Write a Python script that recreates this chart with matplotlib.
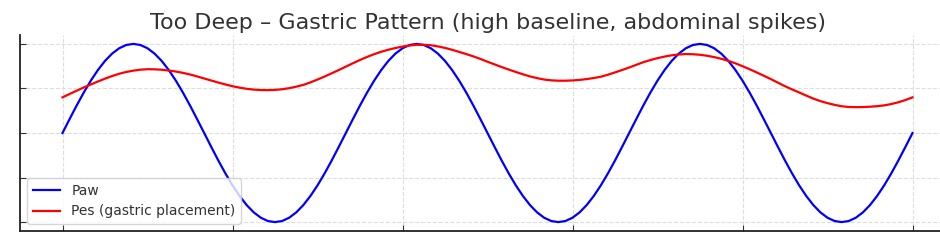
import numpy as np
import matplotlib.pyplot as plt

# time axis (samples every 1/12 s)
t = np.arange(121) / 12.0

paw = [0.0, 0.156, 0.309, 0.454, 0.588, 0.707, 0.809, 0.891, 0.951, 0.988,
       1.0, 0.988, 0.951, 0.891, 0.809, 0.707, 0.588, 0.454, 0.309, 0.156,
       0.0, -0.156, -0.309, -0.454, -0.588, -0.707, -0.809, -0.891, -0.951, -0.988,
       -1.0, -0.988, -0.951, -0.891, -0.809, -0.707, -0.588, -0.454, -0.309, -0.156,
       0.0, 0.156, 0.309, 0.454, 0.588, 0.707, 0.809, 0.891, 0.951, 0.988,
       1.0, 0.988, 0.951, 0.891, 0.809, 0.707, 0.588, 0.454, 0.309, 0.156,
       0.0, -0.156, -0.309, -0.454, -0.588, -0.707, -0.809, -0.891, -0.951, -0.988,
       -1.0, -0.988, -0.951, -0.891, -0.809, -0.707, -0.588, -0.454, -0.309, -0.156,
       0.0, 0.156, 0.309, 0.454, 0.588, 0.707, 0.809, 0.891, 0.951, 0.988,
       1.0, 0.988, 0.951, 0.891, 0.809, 0.707, 0.588, 0.454, 0.309, 0.156,
       0.0, -0.156, -0.309, -0.454, -0.588, -0.707, -0.809, -0.891, -0.951, -0.988,
       -1.0, -0.988, -0.951, -0.891, -0.809, -0.707, -0.588, -0.454, -0.309, -0.156,
       0.0]

pes = [0.40, 0.438, 0.475, 0.511, 0.545, 0.578, 0.61, 0.639, 0.665, 0.685,
       0.70, 0.711, 0.716, 0.715, 0.71, 0.701, 0.69, 0.675, 0.657, 0.635,
       0.612, 0.589, 0.566, 0.545, 0.525, 0.509, 0.496, 0.487, 0.482, 0.481,
       0.484, 0.491, 0.503, 0.52, 0.54, 0.568, 0.60, 0.634, 0.67, 0.707,
       0.745, 0.783, 0.82, 0.854, 0.885, 0.912, 0.935, 0.954, 0.97, 0.982,
       0.99, 0.99, 0.985, 0.972, 0.955, 0.934, 0.91, 0.886, 0.86, 0.831,
       0.80, 0.77, 0.74, 0.712, 0.685, 0.659, 0.635, 0.616, 0.60, 0.591,
       0.587, 0.587, 0.59, 0.596, 0.605, 0.617, 0.632, 0.654, 0.68, 0.707,
       0.735, 0.765, 0.795, 0.819, 0.84, 0.858, 0.872, 0.881, 0.886, 0.884,
       0.878, 0.867, 0.852, 0.833, 0.81, 0.782, 0.75, 0.716, 0.68, 0.643,
       0.605, 0.565, 0.525, 0.489, 0.455, 0.42, 0.386, 0.358, 0.335, 0.316,
       0.30, 0.292, 0.29, 0.291, 0.295, 0.301, 0.31, 0.325, 0.345, 0.37,
       0.40]

title = 'Too Deep \u2013 Gastric Pattern (high baseline, abdominal spikes)'

fig = plt.figure(figsize=(9.4, 2.46), dpi=100)
ax = fig.add_axes([20/940, 15/246, 935/940, 196/246])

ax.plot(t, paw, color='blue', lw=1.6, label='Paw')
ax.plot(t, pes, color='red', lw=1.6, label='Pes (gastric placement)')

ax.set_xlim(-0.5, 10.5)
ax.set_ylim(-1.1, 1.1)
ax.set_xticks([0, 2, 4, 6, 8, 10])
ax.set_yticks([-1, -0.5, 0, 0.5, 1])
ax.set_xticklabels([])
ax.set_yticklabels([])
ax.tick_params(direction='in', color='#333333', length=4)
ax.grid(True, ls='--', color='#dddddd', lw=0.8)

for s in ['top', 'right']:
    ax.spines[s].set_visible(False)
for s in ['left', 'bottom']:
    ax.spines[s].set_linewidth(1.3)
    ax.spines[s].set_color('#222222')

ax.set_title(title, fontsize=16, color='#333333', pad=4)
leg = ax.legend(loc='lower left', fontsize=10, labelcolor='#333333')
leg.get_frame().set_edgecolor('#cccccc')

fig.savefig('out.png', dpi=100)
